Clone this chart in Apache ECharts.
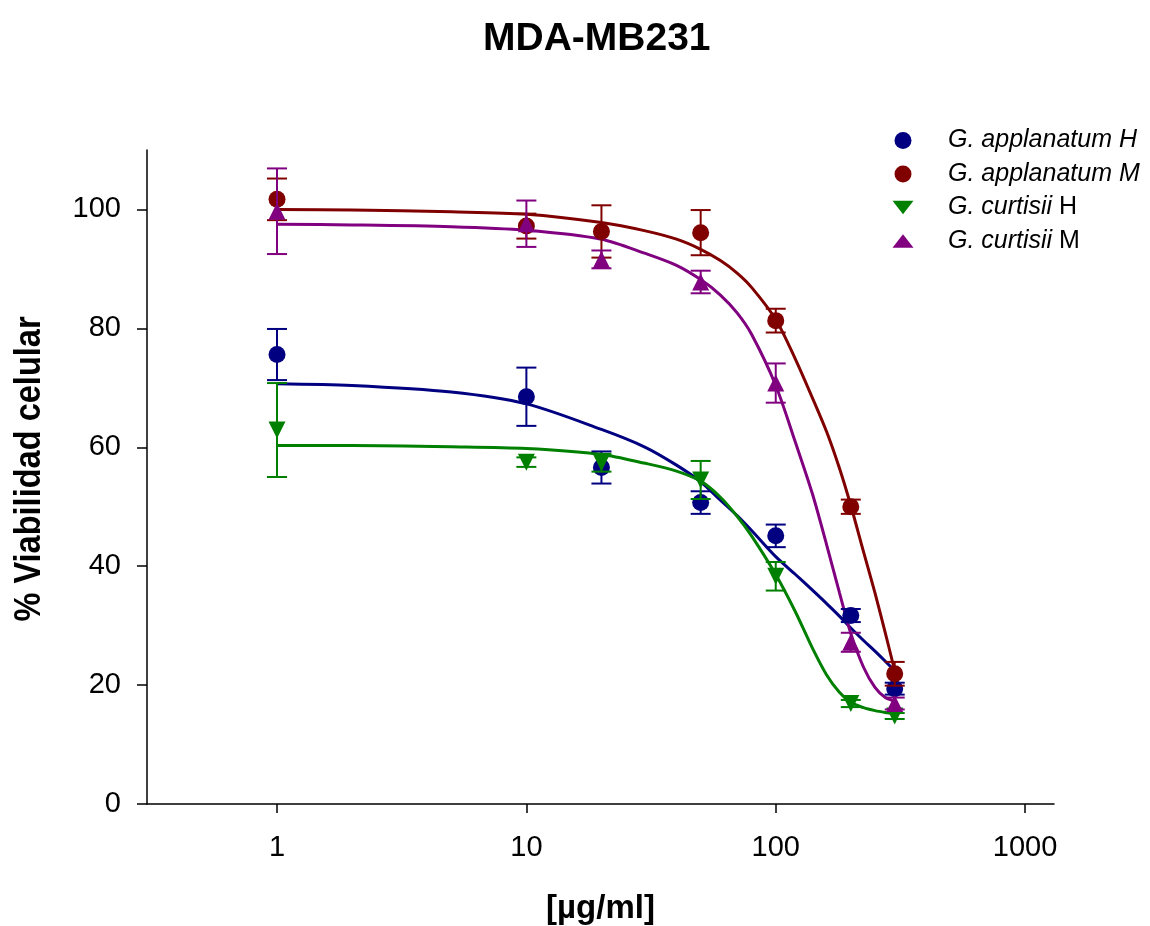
<!DOCTYPE html>
<html>
<head>
<meta charset="utf-8">
<script src="https://cdn.jsdelivr.net/npm/echarts@6/dist/echarts.min.js"></script>
<style>
html,body{margin:0;padding:0;background:#fff;}
#chart{width:1150px;height:926px;}
</style>
</head>
<body>
<div id="chart"></div>
<script>
// ---- data ----
const doses = [1, 10, 20, 50, 100, 200, 300];

const gaH_mean = [75.6, 68.5, 56.6, 50.7, 45.1, 31.7, 19.4];
const gaH_err  = [4.3, 4.9, 2.7, 1.9, 1.9, 1.1, 1.0];
const gaM_mean = [101.7, 97.2, 96.3, 96.1, 81.3, 50.0, 21.9];
const gaM_err  = [3.5, 2.1, 4.4, 3.8, 2.0, 1.2, 2.0];
const gcH_mean = [62.9, 57.5, 57.4, 54.5, 38.3, 16.9, 14.8];
const gcH_err  = [7.9, 0.8, 1.5, 3.2, 2.4, 0.6, 0.5];
const gcM_mean = [99.7, 97.6, 91.6, 87.8, 70.8, 27.2, 16.9];
const gcM_err  = [7.2, 3.9, 1.5, 1.9, 3.3, 1.6, 1.0];

// fitted curves
const curveX    = [1, 2, 5, 10, 20, 30, 40, 50, 60, 70, 80, 100, 120, 140, 160, 180, 200, 225, 250, 275, 300];
const gaH_curve = [70.7, 70.4, 69.3, 67.3, 63.0, 60.0, 57.0, 54.2, 51.1, 48.5, 46.0, 41.6, 38.6, 36.0, 33.7, 31.6, 29.6, 27.5, 25.7, 24.0, 22.4];
const gaM_curve = [100.0, 99.9, 99.6, 99.2, 97.8, 96.4, 95.0, 93.3, 91.4, 89.3, 86.9, 81.5, 74.8, 68.4, 62.6, 56.5, 50.2, 42.4, 35.5, 28.8, 22.4];
const gcH_curve = [60.3, 60.3, 60.1, 59.8, 58.8, 57.3, 56.0, 54.3, 51.6, 48.4, 45.1, 38.6, 32.3, 26.3, 21.7, 18.8, 17.1, 16.2, 15.7, 15.4, 15.2];
const gcM_curve = [97.5, 97.4, 97.1, 96.5, 95.0, 92.6, 90.6, 88.2, 85.6, 82.6, 79.0, 70.4, 60.8, 52.3, 43.6, 35.6, 28.7, 23.0, 19.6, 17.9, 17.3];

const xTicks = [1, 10, 100, 1000];
const yTicks = [0, 20, 40, 60, 80, 100];

const names = ['G. applanatum H', 'G. applanatum M', 'G. curtisii H', 'G. curtisii M'];
const colors = ['#000080', '#800000', '#008000', '#800080'];

// ---- build ----
const FONT = '"Liberation Sans", Arial, Helvetica, sans-serif';
const groups = [
  {mean: gaH_mean, err: gaH_err, curve: gaH_curve, symbol: 'circle', rot: 0},
  {mean: gaM_mean, err: gaM_err, curve: gaM_curve, symbol: 'circle', rot: 0},
  {mean: gcH_mean, err: gcH_err, curve: gcH_curve, symbol: 'triangle', rot: 180},
  {mean: gcM_mean, err: gcM_err, curve: gcM_curve, symbol: 'triangle', rot: 0}
];

function errRenderer(color) {
  return function (params, api) {
    const x = api.value(0), y = api.value(1), e = api.value(2);
    const top = api.coord([x, y + e]);
    const bot = api.coord([x, y - e]);
    const hw = 10;
    const st = {stroke: color, lineWidth: 2};
    return {
      type: 'group',
      children: [
        {type: 'line', shape: {x1: top[0], y1: top[1], x2: bot[0], y2: bot[1]}, style: st},
        {type: 'line', shape: {x1: top[0] - hw, y1: top[1], x2: top[0] + hw, y2: top[1]}, style: st},
        {type: 'line', shape: {x1: bot[0] - hw, y1: bot[1], x2: bot[0] + hw, y2: bot[1]}, style: st}
      ]
    };
  };
}

const series = [];
groups.forEach((g, i) => {
  series.push({
    name: 'curve' + i,
    type: 'line',
    data: curveX.map((x, k) => [x, g.curve[k]]),
    smooth: 0.3,
    showSymbol: false,
    symbol: 'none',
    lineStyle: {color: colors[i], width: 3},
    z: 2,
    silent: true
  });
});
groups.forEach((g, i) => {
  series.push({
    name: 'err' + i,
    type: 'custom',
    renderItem: errRenderer(colors[i]),
    data: doses.map((d, k) => [d, g.mean[k], g.err[k]]),
    encode: {x: 0, y: 1},
    z: 3 + i * 2,
    silent: true
  });
  series.push({
    name: names[i],
    type: 'scatter',
    data: doses.map((d, k) => [d, g.mean[k]]),
    symbol: g.symbol,
    symbolRotate: g.rot,
    symbolSize: 17,
    itemStyle: {color: colors[i], opacity: 1},
    z: 4 + i * 2
  });
});

const legendText = {
  'G. applanatum H': '{i|G. applanatum H}',
  'G. applanatum M': '{i|G. applanatum M}',
  'G. curtisii H': '{i|G. curtisii} {n|H}',
  'G. curtisii M': '{i|G. curtisii} {n|M}'
};

const chart = echarts.init(document.getElementById('chart'), null, {renderer: 'canvas'});
chart.setOption({
  animation: false,
  backgroundColor: '#fff',
  title: {
    text: 'MDA-MB231',
    left: 483, top: 20, padding: 0,
    textStyle: {fontFamily: FONT, fontWeight: 'bold', fontSize: 39, color: '#000'}
  },
  legend: {
    orient: 'vertical',
    left: 887.5, top: 123,
    itemWidth: 21, itemHeight: 17, itemGap: 8.5,
    data: [
      {name: names[0], icon: 'circle'},
      {name: names[1], icon: 'circle'},
      {name: names[2], icon: 'path://M0,0L17,0L8.5,11Z'},
      {name: names[3], icon: 'path://M8.5,0L17,11L0,11Z'}
    ],
    formatter: n => legendText[n],
    textStyle: {
      fontFamily: FONT, fontSize: 25, color: '#000', lineHeight: 24,
      padding: [0, 0, 0, 29.5],
      rich: {
        i: {fontFamily: FONT, fontSize: 25, fontStyle: 'italic', color: '#000', lineHeight: 24},
        n: {fontFamily: FONT, fontSize: 25, fontStyle: 'normal', color: '#000', lineHeight: 24}
      }
    },
    selectedMode: false
  },
  grid: {left: 147, right: 96, top: 150, bottom: 122},
  xAxis: {
    type: 'log',
    logBase: 10,
    min: 0.301,
    max: 1306,
    axisLine: {show: true, onZero: false, lineStyle: {color: '#000', width: 1.5}},
    axisTick: {show: true, inside: false, length: 9, customValues: xTicks, lineStyle: {color: '#000', width: 1.5}},
    axisLabel: {
      customValues: xTicks, margin: 29,
      fontFamily: FONT, fontSize: 29, color: '#000',
      formatter: v => String(Math.round(v))
    },
    splitLine: {show: false},
    minorTick: {show: false}
  },
  yAxis: {
    type: 'value',
    min: 0, max: 110,
    axisLine: {show: true, lineStyle: {color: '#000', width: 1.5}},
    axisTick: {show: true, inside: false, length: 10, customValues: yTicks, lineStyle: {color: '#000', width: 1.5}},
    axisLabel: {customValues: yTicks, margin: 26, fontFamily: FONT, fontSize: 29, color: '#000'},
    splitLine: {show: false}
  },
  graphic: [
    {
      type: 'text', x: 30, y: 469, rotation: Math.PI / 2, scaleX: 0.88,
      style: {text: '% Viabilidad celular', font: 'bold 37px ' + FONT, fill: '#000', align: 'center', verticalAlign: 'middle'}
    },
    {
      type: 'text', x: 600.5, y: 909,
      style: {text: '[µg/ml]', font: 'bold 33px ' + FONT, fill: '#000', align: 'center', verticalAlign: 'middle'}
    }
  ],
  series: series
});
</script>
</body>
</html>
